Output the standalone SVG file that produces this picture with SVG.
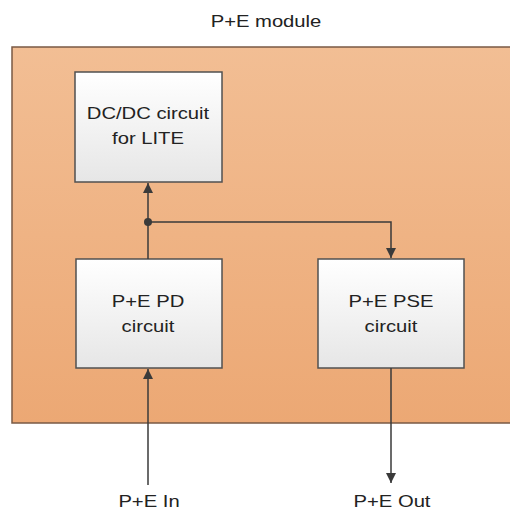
<svg xmlns="http://www.w3.org/2000/svg" width="510" height="512" viewBox="0 0 510 512">
<defs>
<linearGradient id="modFill" x1="0" y1="0" x2="0" y2="1">
<stop offset="0" stop-color="#F2BE94"/>
<stop offset="1" stop-color="#ECA874"/>
</linearGradient>
<linearGradient id="boxFill" x1="0" y1="0" x2="0" y2="1">
<stop offset="0" stop-color="#FFFFFF"/>
<stop offset="1" stop-color="#E6E6E6"/>
</linearGradient>
<marker id="arr" viewBox="0 0 10 10" refX="10" refY="5" markerWidth="10" markerHeight="10" markerUnits="userSpaceOnUse" orient="auto">
<path d="M0,0 L10,5 L0,10 Z" fill="#3A3A3A"/>
</marker>
<style>
.lbl{font-family:"Liberation Sans",Arial,sans-serif;font-size:17px;fill:#222;text-anchor:middle}
.box{fill:url(#boxFill);stroke:#505050;stroke-width:1.5}
.conn{fill:none;stroke:#3A3A3A;stroke-width:1.5}
</style>
</defs>
<rect width="510" height="512" fill="#FFFFFF"/>
<g id="module">
<rect x="12" y="47" width="505" height="376" fill="url(#modFill)" stroke="#7A5A44" stroke-width="1.5"/>
<text class="lbl" transform="translate(266,27) scale(1.19,1)">P+E module</text>
</g>
<g id="dcdc">
<rect class="box" x="75" y="72" width="147" height="110"/>
<text class="lbl" transform="translate(148,119) scale(1.19,1)">DC/DC circuit</text>
<text class="lbl" transform="translate(148,144) scale(1.19,1)">for LITE</text>
</g>
<g id="pd">
<rect class="box" x="76" y="259" width="146" height="109"/>
<text class="lbl" transform="translate(148,307) scale(1.19,1)">P+E PD</text>
<text class="lbl" transform="translate(148,332) scale(1.19,1)">circuit</text>
</g>
<g id="pse">
<rect class="box" x="318" y="259" width="146" height="109"/>
<text class="lbl" transform="translate(391,307) scale(1.19,1)">P+E PSE</text>
<text class="lbl" transform="translate(391,332) scale(1.19,1)">circuit</text>
</g>
<g id="in-label">
<text class="lbl" transform="translate(149,507) scale(1.19,1)">P+E In</text>
</g>
<g id="out-label">
<text class="lbl" transform="translate(392,507) scale(1.19,1)">P+E Out</text>
</g>
<g id="connectors">
<path class="conn" d="M148,259 L148,183" marker-end="url(#arr)"/>
<path class="conn" d="M148,222 L391,222 L391,258" marker-end="url(#arr)"/>
<circle cx="148" cy="222" r="4" fill="#3A3A3A"/>
<path class="conn" d="M148,485 L148,369" marker-end="url(#arr)"/>
<path class="conn" d="M391,368 L391,483" marker-end="url(#arr)"/>
</g>
</svg>
